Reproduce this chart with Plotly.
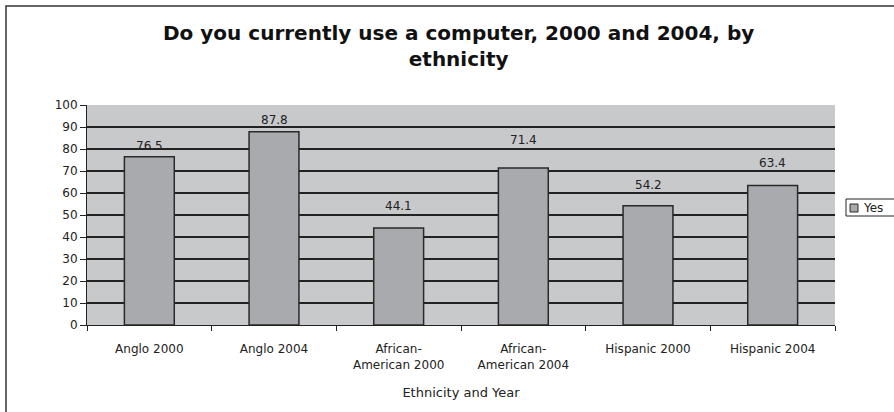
import plotly.graph_objects as go

categories = ["Anglo 2000", "Anglo 2004", "African-<br>American 2000",
              "African-<br>American 2004", "Hispanic 2000", "Hispanic 2004"]
yes_values = [76.5, 87.8, 44.1, 71.4, 54.2, 63.4]
y_ticks = list(range(0, 101, 10))
series_name = "Yes"
# vertical offsets (px) of the value labels above the bars, as in the reference
label_gaps = [2, 3, 13, 19, 12, 14]

W, H = 894, 412
L, R, T, B = 87, 59, 105, 87
pw, ph = W - L - R, H - T - B
BAR_COLOR = "#a9aaad"
EDGE = "#2a2a2a"


def px_x(x):
    return (x - L) / pw


def px_y(y):
    return (T + ph - y) / ph


fig = go.Figure()
fig.add_trace(go.Bar(
    x=categories, y=yes_values, name=series_name,
    marker=dict(color=BAR_COLOR, line=dict(color=EDGE, width=1.5)),
    showlegend=False, hoverinfo="x+y",
))

value_labels = [
    dict(text=f"{v:.1f}", x=c, y=v, xref="x", yref="y", xanchor="center",
         yanchor="bottom", yshift=g, showarrow=False,
         font=dict(family="DejaVu Sans", size=12, color="#222"))
    for c, v, g in zip(categories, yes_values, label_gaps)
]

fig.update_layout(
    width=W, height=H,
    margin=dict(l=L, r=R, t=T, b=B, autoexpand=False),
    paper_bgcolor="white", plot_bgcolor="#c8c9cb",
    bargap=0.6,
    font=dict(family="DejaVu Sans", size=12, color="#222"),
    showlegend=False,
    xaxis=dict(showline=True, linecolor="#222", linewidth=1, ticks="outside",
               tickson="boundaries", ticklen=5, tickcolor="#222",
               ticklabelstandoff=13,
               tickfont=dict(size=12), showgrid=False,
               title=dict(text="Ethnicity and Year", font=dict(size=13), standoff=16)),
    yaxis=dict(range=[0, 100], tickvals=y_ticks, showline=True, linecolor="#222",
               linewidth=1, ticks="outside", ticklen=6, tickcolor="#222",
               showgrid=True, gridcolor="#222", gridwidth=1.5, zeroline=False,
               tickfont=dict(size=12)),
    annotations=value_labels + [
        dict(text="<b>Do you currently use a computer, 2000 and 2004, by<br>ethnicity</b>",
             xref="paper", yref="paper", x=px_x(458), y=px_y(46),
             xanchor="center", yanchor="middle", showarrow=False,
             font=dict(family="DejaVu Sans", size=20, color="#111")),
        dict(text=series_name, xref="paper", yref="paper", x=px_x(861), y=px_y(208),
             xanchor="left", yanchor="middle", showarrow=False,
             font=dict(family="DejaVu Sans", size=12, color="#222")),
    ],
    shapes=[
        dict(type="rect", xref="paper", yref="paper",
             x0=px_x(6), x1=px_x(W + 5), y0=px_y(H + 5), y1=px_y(6),
             line=dict(color="#333", width=1.5), layer="below"),
        dict(type="rect", xref="paper", yref="paper",
             x0=px_x(846), x1=px_x(W + 5), y0=px_y(216), y1=px_y(199),
             line=dict(color="#222", width=1), fillcolor="white"),
        dict(type="rect", xref="paper", yref="paper",
             x0=px_x(850), x1=px_x(858), y0=px_y(212), y1=px_y(204),
             line=dict(color=EDGE, width=1), fillcolor=BAR_COLOR),
    ],
)

fig.write_html("out.html")
